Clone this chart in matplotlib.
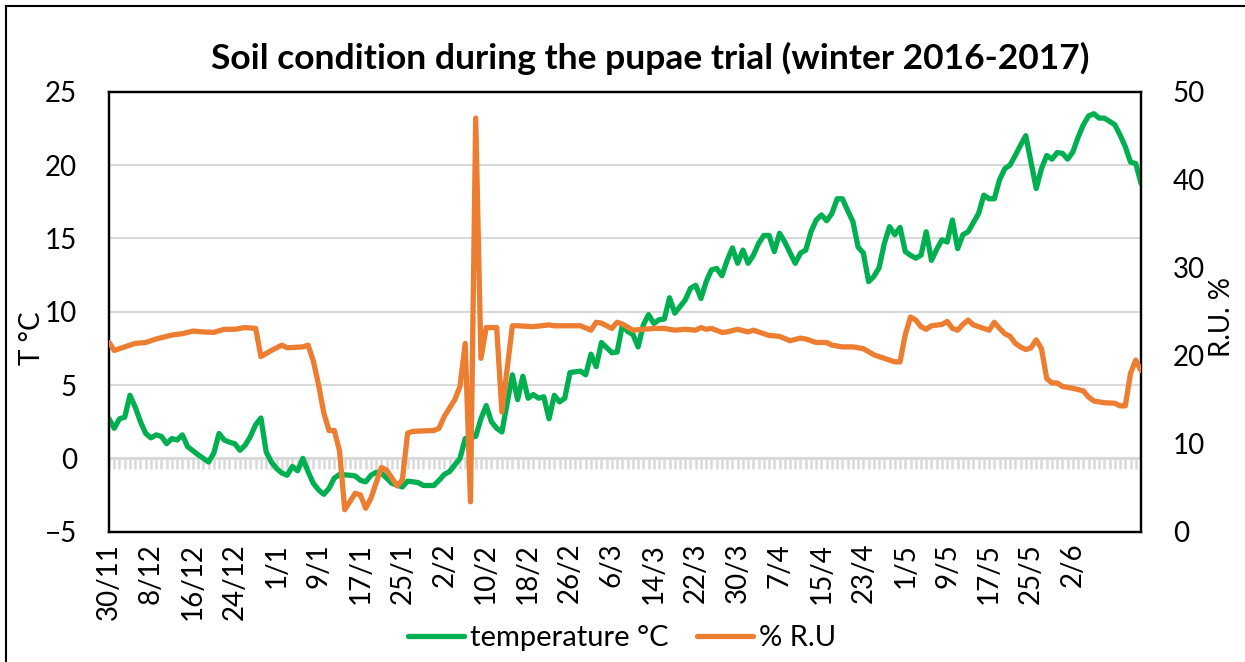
import matplotlib.pyplot as plt
import numpy as np

plt.rcParams['font.family'] = ['Lato', 'DejaVu Sans']

# x axis: one category per day, day 0 = 30/11/2016
tick_labels = ['30/11', '8/12', '16/12', '24/12', '1/1', '9/1', '17/1', '25/1',
               '2/2', '10/2', '18/2', '26/2', '6/3', '14/3', '22/3', '30/3',
               '7/4', '15/4', '23/4', '1/5', '9/5', '17/5', '25/5', '2/6']
n_days = 198

# soil temperature (°C), read at the vertices of the curve
temp_days = [0, 1, 2, 3, 4, 5, 6, 7, 8, 9, 10, 11, 12, 13, 14, 15, 17, 19, 20, 21,
             22, 23, 24, 25, 26, 27, 28, 29, 30, 31, 32, 33, 34, 35, 36, 37, 38, 39,
             40, 41, 42, 43, 44, 46, 47, 48, 49, 50, 51, 52, 53, 54, 56, 57, 59, 60,
             62, 63, 64, 65, 67, 68, 70, 71, 72, 73, 74, 75, 77, 78, 79, 80, 81, 82,
             83, 84, 85, 86, 87, 88, 90, 91, 92, 93, 94, 95, 96, 97, 98, 99, 100,
             101, 102, 103, 104, 105, 106, 107, 108, 110, 111, 112, 113, 114, 115,
             116, 117, 118, 119, 120, 121, 122, 123, 124, 125, 126, 127, 128, 129,
             131, 132, 133, 134, 135, 136, 137, 138, 139, 140, 141, 142, 143, 144,
             145, 146, 147, 148, 149, 150, 151, 152, 153, 154, 155, 156, 157, 158,
             159, 160, 161, 162, 163, 164, 166, 167, 168, 169, 170, 171, 172, 173,
             174, 175, 176, 177, 178, 179, 180, 181, 182, 183, 184, 185, 186, 187,
             188, 189, 190, 192, 193, 194, 195, 196, 197]
temp = [2.7, 2.05, 2.7, 2.8, 4.3, 3.5, 2.5, 1.7, 1.4, 1.6, 1.5, 1.0, 1.35, 1.25, 1.6,
        0.8, 0.25, -0.25, 0.35, 1.7, 1.25, 1.1, 1.0, 0.55, 0.9, 1.5, 2.3, 2.75, 0.45,
        -0.25, -0.7, -1.0, -1.15, -0.55, -0.85, 0.0, -0.9, -1.7, -2.15, -2.45, -2.05,
        -1.35, -1.1, -1.15, -1.2, -1.5, -1.6, -1.15, -0.95, -1.0, -1.35, -1.7, -1.95,
        -1.55, -1.65, -1.85, -1.85, -1.5, -1.1, -0.9, 0.0, 1.35, 1.5, 2.7, 3.6, 2.5,
        2.05, 1.8, 5.7, 4.0, 5.6, 4.1, 4.35, 4.1, 4.2, 2.7, 4.3, 3.85, 4.1, 5.85, 5.95,
        5.7, 7.1, 6.25, 7.9, 7.55, 7.2, 7.25, 9.1, 8.65, 8.45, 7.6, 9.1, 9.8, 9.2,
        9.45, 9.5, 10.95, 9.9, 10.8, 11.6, 11.8, 10.9, 12.05, 12.85, 12.95, 12.45,
        13.5, 14.35, 13.3, 14.2, 13.3, 13.85, 14.65, 15.2, 15.2, 14.1, 15.35, 14.75,
        13.3, 14.0, 14.2, 15.45, 16.25, 16.6, 16.2, 16.7, 17.7, 17.7, 16.9, 16.15,
        14.4, 14.0, 12.05, 12.4, 13.0, 14.65, 15.8, 15.25, 15.75, 14.1, 13.85, 13.65,
        13.85, 15.45, 13.5, 14.25, 14.9, 14.75, 16.25, 14.3, 15.25, 15.45, 16.7,
        17.95, 17.7, 17.7, 19.0, 19.75, 20.0, 20.65, 21.35, 22.0, 20.2, 18.4, 19.75,
        20.65, 20.4, 20.85, 20.8, 20.4, 20.9, 21.9, 22.75, 23.35, 23.5, 23.2, 23.2,
        22.75, 22.05, 21.25, 20.2, 20.1, 18.75]

# soil water reserve (% R.U)
ru_days = [0, 1, 3, 5, 7, 9, 12, 14, 16, 18, 20, 22, 24, 26, 28, 29, 31, 33, 34, 37,
           38, 39, 40, 41, 42, 43, 44, 45, 47, 48, 49, 50, 52, 53, 55, 56, 57, 58, 62,
           63, 64, 66, 67, 68, 69, 70, 71, 72, 74, 75, 77, 78, 81, 84, 85, 87, 90, 92,
           93, 94, 96, 97, 98, 100, 102, 104, 106, 108, 110, 112, 113, 114, 115, 117,
           118, 120, 122, 123, 125, 126, 128, 130, 132, 133, 135, 137, 138, 140, 142,
           144, 145, 146, 148, 150, 151, 152, 153, 154, 155, 156, 157, 159, 160, 161,
           162, 163, 164, 165, 166, 167, 168, 169, 170, 171, 172, 173, 174, 175, 176,
           177, 178, 179, 180, 181, 182, 184, 186, 187, 188, 190, 192, 193, 194, 195,
           196, 197]
ru = [21.5, 20.6, 21.0, 21.4, 21.5, 21.9, 22.35, 22.5, 22.8, 22.7, 22.65, 23.0, 23.0,
      23.2, 23.1, 19.9, 20.6, 21.2, 20.9, 21.0, 21.2, 19.4, 16.7, 13.5, 11.5, 11.5,
      9.2, 2.5, 4.36, 4.17, 2.66, 3.8, 7.3, 7.0, 5.2, 5.9, 11.2, 11.4, 11.5, 11.75,
      13.1, 15.0, 16.5, 21.4, 3.4, 47.0, 19.7, 23.2, 23.2, 13.6, 23.4, 23.4, 23.3,
      23.5, 23.4, 23.4, 23.4, 22.9, 23.8, 23.7, 23.1, 23.8, 23.6, 22.9, 23.0, 23.1,
      23.1, 22.9, 23.0, 22.9, 23.2, 23.0, 23.1, 22.65, 22.7, 23.0, 22.7, 22.9, 22.5,
      22.3, 22.2, 21.7, 22.0, 21.9, 21.5, 21.5, 21.2, 21.0, 21.0, 20.8, 20.45, 20.1,
      19.7, 19.3, 19.3, 22.4, 24.4, 24.05, 23.3, 23.0, 23.4, 23.55, 23.9, 23.1, 22.9,
      23.55, 24.05, 23.5, 23.3, 23.1, 22.9, 23.8, 23.1, 22.5, 22.2, 21.4, 21.0, 20.7,
      20.9, 21.8, 20.8, 17.4, 16.9, 16.9, 16.5, 16.3, 16.0, 15.3, 14.85, 14.65, 14.6,
      14.3, 14.3, 18.0, 19.5, 18.3]

GREEN = '#00B050'
ORANGE = '#ED7D31'
GRID = '#d9d9d9'
FS = 20
W, H = 1245, 662

fig = plt.figure(figsize=(W / 100, H / 100), dpi=100)
ax = fig.add_axes([109 / W, 1 - 531.7 / H, 1032 / W, 440 / H])
ax2 = ax.twinx()

ax.set_xlim(0, n_days - 1)
ax.set_ylim(-5, 25)
ax2.set_ylim(0, 50)
ax.set_yticks(range(-5, 26, 5))
ax2.set_yticks(range(0, 51, 10))

ax.grid(axis='y', color=GRID, lw=1.5)
ax.set_axisbelow(True)
# horizontal axis crossing at 0, with a tick for each day
ax.axhline(0, color=GRID, lw=2, zorder=1)
ax.vlines(np.arange(n_days), -0.7, 0, color=GRID, lw=1.8, zorder=1)

l1, = ax.plot(temp_days, temp, color=GREEN, lw=3.8, solid_joinstyle='round',
              solid_capstyle='round', zorder=3)
l2, = ax2.plot(ru_days, ru, color=ORANGE, lw=3.8, solid_joinstyle='round',
               solid_capstyle='round', zorder=3)

ax.set_xticks(np.arange(0, n_days, 8)[:len(tick_labels)])
ax.set_xticklabels(tick_labels, rotation=90)
ax.tick_params(axis='x', length=0, labelsize=FS, pad=8)
ax.tick_params(axis='y', length=0, labelsize=FS, pad=23)
ax2.tick_params(axis='y', length=0, labelsize=FS, pad=23)

for a in (ax, ax2):
    for s in a.spines.values():
        s.set_color('black')
        s.set_linewidth(1.6)

fig.text(32 / W, 1 - 338 / H, 'T °C', rotation=90, ha='center', va='center',
         fontsize=FS)
fig.text(1222 / W, 1 - 317 / H, 'R.U. %', rotation=90, ha='center', va='center',
         fontsize=FS)

fig.text(650 / W, 1 - 58 / H, 'Soil condition during the pupae trial (winter 2016-2017)',
         ha='center', va='center', fontsize=25.5, fontweight='bold')

fig.legend([l1, l2], ['temperature °C', '% R.U'], loc='center',
           bbox_to_anchor=(622 / W, 1 - 638 / H), ncol=2, frameon=False,
           fontsize=21, handlelength=1.9, columnspacing=1.0, handletextpad=0.2)

# outer chart border
fig.add_artist(plt.Line2D([6 / W, 6 / W], [0, 1 - 6 / H],
                          transform=fig.transFigure, color='black', lw=1.5))
fig.add_artist(plt.Line2D([6 / W, 1], [1 - 6 / H, 1 - 6 / H],
                          transform=fig.transFigure, color='black', lw=1.5))

fig.savefig('out.png', dpi=100)
